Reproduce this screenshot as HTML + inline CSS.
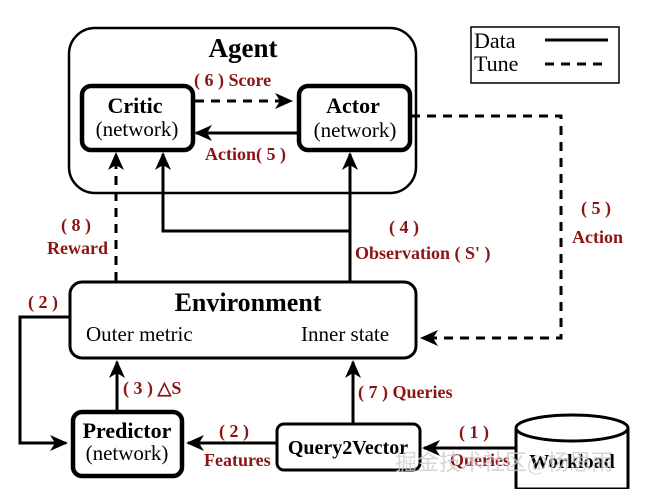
<!DOCTYPE html>
<html><head><meta charset="utf-8"><style>
html,body{margin:0;padding:0;background:#fff;}
svg{display:block;}
text{font-family:"Liberation Serif",serif;}
.r{fill:#8b1414;font-weight:bold;font-size:18px;}
</style></head><body>
<svg width="669" height="489" viewBox="0 0 669 489" xmlns="http://www.w3.org/2000/svg">
<defs>
<marker id="b" markerWidth="18" markerHeight="18" refX="16" refY="9" orient="auto" markerUnits="userSpaceOnUse" viewBox="0 0 18 18">
<path d="M0,1 L18,9 L0,17 L5,9 Z" fill="#000"/></marker>
</defs>
<rect x="69" y="28" width="347" height="165" rx="26" fill="#fff" stroke="#000" stroke-width="2.5"/>
<text x="243" y="57" text-anchor="middle" font-size="27" font-weight="bold">Agent</text>
<rect x="471" y="27" width="148" height="56" fill="#fff" stroke="#000" stroke-width="1.5"/>
<text x="474" y="48" font-size="22">Data</text>
<text x="474" y="71" font-size="22">Tune</text>
<line x1="545" y1="40" x2="608" y2="40" stroke="#000" stroke-width="3"/>
<line x1="545" y1="64" x2="608" y2="64" stroke="#000" stroke-width="3" stroke-dasharray="9,7"/>
<rect x="82" y="86" width="111" height="64" rx="9" fill="#fff" stroke="#000" stroke-width="4.5"/>
<text x="135" y="113" text-anchor="middle" font-size="22" font-weight="bold">Critic</text>
<text x="137" y="136" text-anchor="middle" font-size="21">(network)</text>
<rect x="299" y="86" width="111" height="64" rx="9" fill="#fff" stroke="#000" stroke-width="4.5"/>
<text x="353" y="113" text-anchor="middle" font-size="22" font-weight="bold">Actor</text>
<text x="355" y="137" text-anchor="middle" font-size="21">(network)</text>
<line x1="195" y1="101" x2="291" y2="101" stroke="#000" stroke-width="3" stroke-dasharray="9,7" marker-end="url(#b)"/>
<line x1="297" y1="133" x2="196" y2="133" stroke="#000" stroke-width="3" marker-end="url(#b)"/>
<text class="r" x="194" y="86">( 6 ) Score</text>
<text class="r" x="205" y="160">Action( 5 )</text>
<polyline points="411,116 561,116 561,338 422,338" fill="none" stroke="#000" stroke-width="3" stroke-dasharray="9,7" marker-end="url(#b)"/>
<text class="r" x="581" y="214">( 5 )</text>
<text class="r" x="572" y="243">Action</text>
<line x1="116" y1="281" x2="116" y2="154" stroke="#000" stroke-width="3" stroke-dasharray="9,7" marker-end="url(#b)"/>
<text class="r" x="61" y="231">( 8 )</text>
<text class="r" x="47" y="254">Reward</text>
<line x1="350" y1="281" x2="350" y2="154" stroke="#000" stroke-width="3" marker-end="url(#b)"/>
<polyline points="350,231 163,231 163,154" fill="none" stroke="#000" stroke-width="3" marker-end="url(#b)"/>
<text class="r" x="389" y="233">( 4 )</text>
<text class="r" x="355" y="259">Observation ( S' )</text>
<rect x="70" y="282" width="346" height="76" rx="12" fill="#fff" stroke="#000" stroke-width="3"/>
<text x="248" y="311" text-anchor="middle" font-size="26" font-weight="bold">Environment</text>
<text x="86" y="341" font-size="21">Outer metric</text>
<text x="301" y="341" font-size="21">Inner state</text>
<polyline points="70,317 20,317 20,443 66,443" fill="none" stroke="#000" stroke-width="3" marker-end="url(#b)"/>
<text class="r" x="28" y="308">( 2 )</text>
<line x1="117" y1="410" x2="117" y2="362" stroke="#000" stroke-width="3" marker-end="url(#b)"/>
<text class="r" x="123" y="394">( 3 ) △S</text>
<line x1="353" y1="423" x2="353" y2="362" stroke="#000" stroke-width="3" marker-end="url(#b)"/>
<text class="r" x="358" y="398">( 7 ) Queries</text>
<rect x="73" y="412" width="109" height="64" rx="9" fill="#fff" stroke="#000" stroke-width="4.5"/>
<text x="127" y="438" text-anchor="middle" font-size="22" font-weight="bold">Predictor</text>
<text x="127" y="460" text-anchor="middle" font-size="21">(network)</text>
<line x1="276" y1="443" x2="188" y2="443" stroke="#000" stroke-width="3" marker-end="url(#b)"/>
<text class="r" x="219" y="437">( 2 )</text>
<text class="r" x="204" y="466">Features</text>
<rect x="277" y="424" width="143" height="46" rx="7" fill="#fff" stroke="#000" stroke-width="3"/>
<text x="348" y="454" text-anchor="middle" font-size="20" font-weight="bold">Query2Vector</text>
<line x1="515" y1="448" x2="424" y2="448" stroke="#000" stroke-width="3" marker-end="url(#b)"/>
<text class="r" x="459" y="438">( 1 )</text>
<text class="r" x="450" y="466">Queries</text>
<path d="M516,428 L516,489 L628,489 L628,428" fill="#fff" stroke="#000" stroke-width="3"/>
<ellipse cx="572" cy="428" rx="56" ry="13" fill="#fff" stroke="#000" stroke-width="3"/>
<text x="572" y="468" text-anchor="middle" font-size="20" font-weight="bold">Workload</text>
<text x="395" y="470" font-size="22" fill="#ccc" opacity="0.8" font-family="Noto Sans CJK SC, sans-serif">掘金技术社区@杨思雨</text>
</svg>
</body></html>
